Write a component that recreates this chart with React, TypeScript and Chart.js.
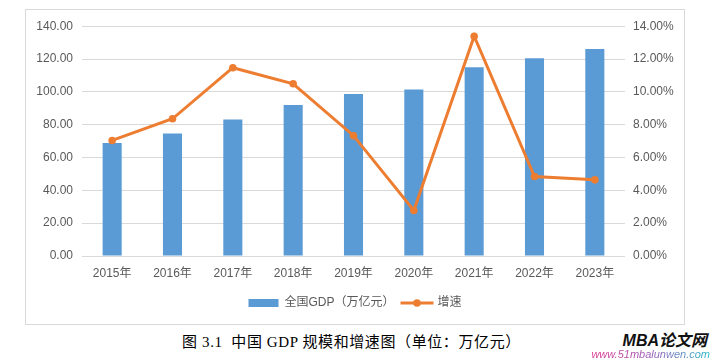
import React, { useEffect, useRef } from "react";
import { Chart, registerables } from "chart.js";

Chart.register(...registerables);

const years = ["2015年", "2016年", "2017年", "2018年", "2019年", "2020年", "2021年", "2022年", "2023年"];
const gdp = [68.89, 74.64, 83.2, 91.93, 98.65, 101.36, 114.92, 120.47, 126.06];
const growth = [7.04, 8.36, 11.47, 10.49, 7.33, 2.77, 13.39, 4.84, 4.64];
const gdpLabel = "全国GDP（万亿元）";
const growthLabel = "增速";
const caption = "图 3.1  中国 GDP 规模和增速图（单位：万亿元）";

const FONT = "'Liberation Sans', 'Noto Sans CJK SC', sans-serif";
const TEXT = "#595959";
const BLUE = "#5B9BD5";
const ORANGE = "#ED7D31";

const legendPlugin = {
  id: "customLegend",
  afterDraw(chart: any) {
    const ctx = chart.ctx;
    ctx.save();
    ctx.font = "12px " + FONT;
    ctx.textBaseline = "middle";
    ctx.fillStyle = TEXT;
    const w1 = ctx.measureText(gdpLabel).width;
    const w2 = ctx.measureText(growthLabel).width;
    const total = 30 + 6 + w1 + 6 + 33 + 4 + w2;
    let x = chart.width / 2 - total / 2;
    const y = 293;
    ctx.fillStyle = BLUE;
    ctx.fillRect(x, y - 4, 30, 8);
    x += 36;
    ctx.fillStyle = TEXT;
    ctx.textAlign = "left";
    ctx.fillText(gdpLabel, x, y);
    x += w1 + 6;
    ctx.strokeStyle = ORANGE;
    ctx.lineWidth = 3;
    ctx.beginPath();
    ctx.moveTo(x, y);
    ctx.lineTo(x + 33, y);
    ctx.stroke();
    ctx.fillStyle = ORANGE;
    ctx.beginPath();
    ctx.arc(x + 16.5, y, 3.8, 0, Math.PI * 2);
    ctx.fill();
    x += 37;
    ctx.fillStyle = TEXT;
    ctx.fillText(growthLabel, x, y);
    ctx.restore();
  },
};

export default function App() {
  const ref = useRef<HTMLCanvasElement>(null);
  useEffect(() => {
    if (!ref.current) return;
    const chart = new Chart(ref.current, {
      type: "bar",
      data: {
        labels: years,
        datasets: [
          {
            type: "line",
            label: growthLabel,
            data: growth,
            yAxisID: "y1",
            borderColor: ORANGE,
            backgroundColor: ORANGE,
            borderWidth: 3,
            pointRadius: 3.8,
            pointBackgroundColor: ORANGE,
            pointBorderWidth: 0,
            tension: 0,
            order: 0,
          } as any,
          {
            type: "bar",
            label: gdpLabel,
            data: gdp,
            yAxisID: "y",
            backgroundColor: BLUE,
            barPercentage: 0.316,
            categoryPercentage: 1,
            order: 1,
          },
        ],
      },
      options: {
        responsive: false,
        animation: false,
        devicePixelRatio: 1,
        layout: { padding: { top: 10, left: 0, right: 0, bottom: 0 } },
        plugins: { legend: { display: false }, tooltip: { enabled: false } },
        scales: {
          x: {
            grid: { display: false, drawTicks: false },
            border: { display: false },
            ticks: { color: TEXT, font: { family: FONT, size: 12 }, padding: 10, maxRotation: 0 },
            afterFit(scale: any) {
              scale.height = 68;
            },
          },
          y: {
            position: "left",
            min: 0,
            max: 140,
            grid: { color: "#D9D9D9", drawTicks: false, lineWidth: 1 },
            border: { display: false },
            ticks: {
              stepSize: 20,
              color: TEXT,
              font: { family: FONT, size: 12 },
              padding: 9,
              callback: (v: any) => Number(v).toFixed(2),
            },
            afterFit(scale: any) {
              scale.width = 56;
            },
          },
          y1: {
            position: "right",
            min: 0,
            max: 14,
            grid: { display: false, drawTicks: false },
            border: { display: false },
            ticks: {
              stepSize: 2,
              color: TEXT,
              font: { family: FONT, size: 12 },
              padding: 8,
              callback: (v: any) => Number(v).toFixed(2) + "%",
            },
            afterFit(scale: any) {
              scale.width = 59;
            },
          },
        },
      },
      plugins: [legendPlugin],
    });
    return () => chart.destroy();
  }, []);

  return (
    <div>
      <div
        style={{
          position: "absolute",
          left: 25,
          top: 9,
          width: 660,
          height: 316,
          border: "1px solid #D9D9D9",
          boxSizing: "border-box",
          background: "#fff",
        }}
      >
        <canvas ref={ref} width={658} height={314} style={{ display: "block" }} />
      </div>
      <div
        style={{
          position: "absolute",
          left: 0,
          top: 332,
          width: 703,
          textAlign: "center",
          fontFamily: "'Liberation Serif', 'Noto Sans CJK SC', serif",
          fontSize: 15,
          lineHeight: "20px",
          letterSpacing: 0.6,
          color: "#000",
          whiteSpace: "pre",
        }}
      >
        {caption}
      </div>
      <div
        style={{
          position: "absolute",
          right: 5,
          top: 331,
          fontFamily: "'Liberation Sans', 'Noto Sans CJK SC', sans-serif",
          fontSize: 16,
          fontWeight: "bold",
          fontStyle: "italic",
          lineHeight: "20px",
          color: "#111",
        }}
      >
        MBA论文网
      </div>
      <div
        style={{
          position: "absolute",
          right: 2,
          top: 347,
          fontFamily: "'Liberation Sans', sans-serif",
          fontSize: 11,
          fontStyle: "italic",
          lineHeight: "14px",
          background: "linear-gradient(90deg, #e0348f, #9b59b6, #22b8c8)",
          WebkitBackgroundClip: "text",
          backgroundClip: "text",
          color: "transparent",
        }}
      >
        www.51mbalunwen.com
      </div>
    </div>
  );
}
